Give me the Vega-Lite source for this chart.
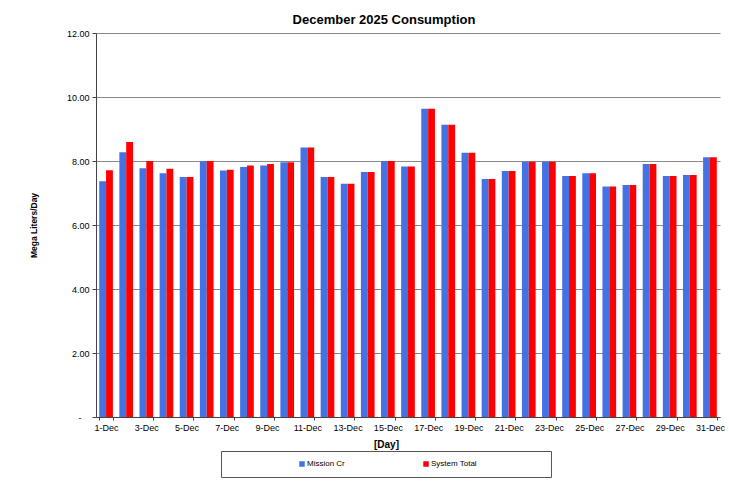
{
  "$schema": "https://vega.github.io/schema/vega-lite/v6.json",
  "autosize": {"type": "none"},
  "width": 624,
  "height": 384,
  "padding": {"left": 96, "top": 33, "right": 9, "bottom": 66},
  "background": "white",
  "config": {
    "font": "Liberation Sans",
    "view": {"stroke": null}
  },
  "title": {
    "text": "December 2025 Consumption",
    "fontSize": 13,
    "fontWeight": "bold",
    "font": "Liberation Sans",
    "color": "#000000",
    "anchor": "middle",
    "frame": "group",
    "baseline": "bottom",
    "offset": -11,
    "dx": -24
  },
  "data": {
    "values": [
      {"day": "1-Dec", "series": "Mission Cr", "value": 7.37}, {"day": "1-Dec", "series": "System Total", "value": 7.71},
      {"day": "2-Dec", "series": "Mission Cr", "value": 8.27}, {"day": "2-Dec", "series": "System Total", "value": 8.59},
      {"day": "3-Dec", "series": "Mission Cr", "value": 7.77}, {"day": "3-Dec", "series": "System Total", "value": 8.00},
      {"day": "4-Dec", "series": "Mission Cr", "value": 7.62}, {"day": "4-Dec", "series": "System Total", "value": 7.76},
      {"day": "5-Dec", "series": "Mission Cr", "value": 7.50}, {"day": "5-Dec", "series": "System Total", "value": 7.50},
      {"day": "6-Dec", "series": "Mission Cr", "value": 7.99}, {"day": "6-Dec", "series": "System Total", "value": 8.00},
      {"day": "7-Dec", "series": "Mission Cr", "value": 7.70}, {"day": "7-Dec", "series": "System Total", "value": 7.73},
      {"day": "8-Dec", "series": "Mission Cr", "value": 7.81}, {"day": "8-Dec", "series": "System Total", "value": 7.86},
      {"day": "9-Dec", "series": "Mission Cr", "value": 7.86}, {"day": "9-Dec", "series": "System Total", "value": 7.91},
      {"day": "10-Dec", "series": "Mission Cr", "value": 7.96}, {"day": "10-Dec", "series": "System Total", "value": 7.96},
      {"day": "11-Dec", "series": "Mission Cr", "value": 8.42}, {"day": "11-Dec", "series": "System Total", "value": 8.42},
      {"day": "12-Dec", "series": "Mission Cr", "value": 7.50}, {"day": "12-Dec", "series": "System Total", "value": 7.50},
      {"day": "13-Dec", "series": "Mission Cr", "value": 7.29}, {"day": "13-Dec", "series": "System Total", "value": 7.29},
      {"day": "14-Dec", "series": "Mission Cr", "value": 7.66}, {"day": "14-Dec", "series": "System Total", "value": 7.66},
      {"day": "15-Dec", "series": "Mission Cr", "value": 8.00}, {"day": "15-Dec", "series": "System Total", "value": 8.00},
      {"day": "16-Dec", "series": "Mission Cr", "value": 7.83}, {"day": "16-Dec", "series": "System Total", "value": 7.83},
      {"day": "17-Dec", "series": "Mission Cr", "value": 9.63}, {"day": "17-Dec", "series": "System Total", "value": 9.63},
      {"day": "18-Dec", "series": "Mission Cr", "value": 9.13}, {"day": "18-Dec", "series": "System Total", "value": 9.13},
      {"day": "19-Dec", "series": "Mission Cr", "value": 8.26}, {"day": "19-Dec", "series": "System Total", "value": 8.26},
      {"day": "20-Dec", "series": "Mission Cr", "value": 7.44}, {"day": "20-Dec", "series": "System Total", "value": 7.44},
      {"day": "21-Dec", "series": "Mission Cr", "value": 7.69}, {"day": "21-Dec", "series": "System Total", "value": 7.69},
      {"day": "22-Dec", "series": "Mission Cr", "value": 7.98}, {"day": "22-Dec", "series": "System Total", "value": 7.98},
      {"day": "23-Dec", "series": "Mission Cr", "value": 7.98}, {"day": "23-Dec", "series": "System Total", "value": 7.98},
      {"day": "24-Dec", "series": "Mission Cr", "value": 7.53}, {"day": "24-Dec", "series": "System Total", "value": 7.53},
      {"day": "25-Dec", "series": "Mission Cr", "value": 7.62}, {"day": "25-Dec", "series": "System Total", "value": 7.62},
      {"day": "26-Dec", "series": "Mission Cr", "value": 7.20}, {"day": "26-Dec", "series": "System Total", "value": 7.20},
      {"day": "27-Dec", "series": "Mission Cr", "value": 7.25}, {"day": "27-Dec", "series": "System Total", "value": 7.25},
      {"day": "28-Dec", "series": "Mission Cr", "value": 7.91}, {"day": "28-Dec", "series": "System Total", "value": 7.91},
      {"day": "29-Dec", "series": "Mission Cr", "value": 7.53}, {"day": "29-Dec", "series": "System Total", "value": 7.53},
      {"day": "30-Dec", "series": "Mission Cr", "value": 7.56}, {"day": "30-Dec", "series": "System Total", "value": 7.56},
      {"day": "31-Dec", "series": "Mission Cr", "value": 8.12}, {"day": "31-Dec", "series": "System Total", "value": 8.12}
    ]
  },
  "mark": {"type": "bar"},
  "encoding": {
    "x": {
      "field": "day",
      "type": "nominal",
      "sort": null,
      "scale": {"paddingInner": 0.32, "paddingOuter": 0.16},
      "axis": {
        "title": "[Day]",
        "titleFontSize": 10,
        "titleFontWeight": "bold",
        "titleColor": "#000000",
        "titlePadding": 7,
        "titleX": 290,
        "labelAngle": 0,
        "labelFontSize": 9,
        "labelColor": "#000000",
        "labelPadding": 3,
        "values": ["1-Dec", "3-Dec", "5-Dec", "7-Dec", "9-Dec", "11-Dec", "13-Dec", "15-Dec", "17-Dec", "19-Dec", "21-Dec", "23-Dec", "25-Dec", "27-Dec", "29-Dec", "31-Dec"],
        "tickBand": "extent",
        "tickSize": 3,
        "tickColor": "#444444",
        "domainColor": "#444444",
        "grid": false
      }
    },
    "xOffset": {"field": "series", "type": "nominal", "sort": ["Mission Cr", "System Total"]},
    "y": {
      "field": "value",
      "type": "quantitative",
      "scale": {"domain": [0, 12]},
      "axis": {
        "title": "Mega Liters/Day",
        "titleFontSize": 8.5,
        "titleFontWeight": "bold",
        "titleColor": "#000000",
        "titlePadding": 28,
        "values": [0, 2, 4, 6, 8, 10, 12],
        "labelExpr": "datum.value == 0 ? '-' : format(datum.value, '.2f')",
        "labelFontSize": 9,
        "labelColor": "#000000",
        "labelPadding": {"condition": {"test": "datum.value == 0", "value": 11}, "value": 3},
        "tickSize": 4,
        "tickColor": "#444444",
        "domainColor": "#444444",
        "grid": true,
        "gridColor": "#8a8a8a",
        "gridWidth": 1
      }
    },
    "color": {
      "field": "series",
      "type": "nominal",
      "sort": ["Mission Cr", "System Total"],
      "scale": {"domain": ["Mission Cr", "System Total"], "range": ["#4472E4", "#FF0000"]},
      "legend": {
        "orient": "none",
        "legendX": 125,
        "legendY": 418,
        "direction": "horizontal",
        "title": null,
        "strokeColor": "#555555",
        "fillColor": "#ffffff",
        "padding": 9,
        "symbolType": "square",
        "symbolSize": 30,
        "symbolStrokeWidth": 0,
        "symbolOffset": 68,
        "labelOffset": 1,
        "labelFontSize": 8,
        "labelColor": "#000000",
        "columnPadding": 9,
        "labelLimit": 300,
        "labelExpr": "datum.label == 'System Total' ? datum.label + '\u00a0\u00a0\u00a0\u00a0\u00a0\u00a0\u00a0\u00a0\u00a0\u00a0\u00a0\u00a0\u00a0\u00a0\u00a0\u00a0\u00a0\u00a0\u00a0\u00a0\u00a0\u00a0\u00a0\u00a0\u00a0\u00a0\u00a0\u00a0\u00a0\u200b' : datum.label"
      }
    }
  }
}
